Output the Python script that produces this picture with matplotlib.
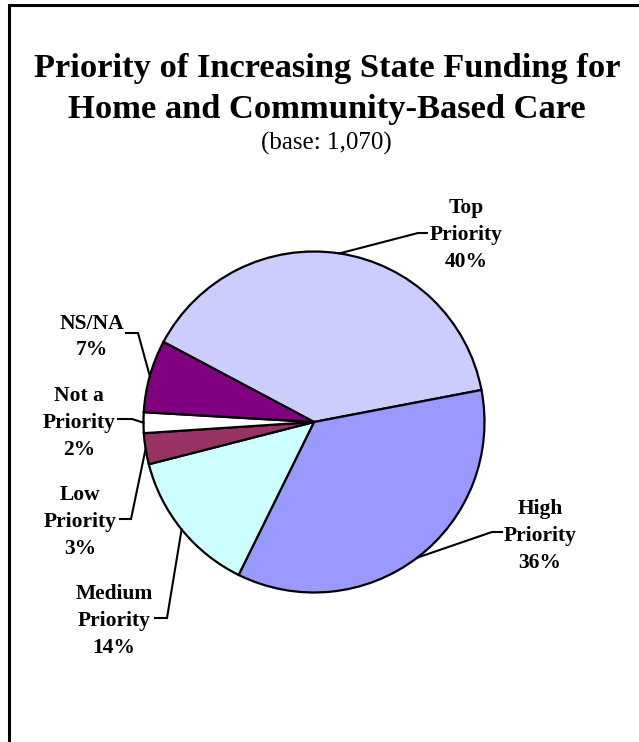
import numpy as np
import matplotlib
matplotlib.use("Agg")
import matplotlib.pyplot as plt

# survey answers, clockwise from the top slice
categories = ["Top\nPriority", "High\nPriority", "Medium\nPriority",
              "Low\nPriority", "Not a\nPriority", "NS/NA"]
shares = [40, 36, 14, 3, 2, 7]
colors = ["#CCCCFF", "#9999FF", "#CCFFFF", "#993366", "#FFFFFF", "#800080"]

title_lines = ["Priority of Increasing State Funding for",
               "Home and Community-Based Care"]
subtitle = "(base: 1,070)"

W, H = 639, 742
# label layout in pixels from the top-left: label centre, elbow, tail
label_pos = [(466, 235), (540, 536), (114, 621), (80, 522), (79, 423), (92, 337)]
elbows = [(418, 233), (492, 532), (167, 618), (131, 519), (132, 419), (138, 333)]
tails = [(427, 233), (502, 532), (155, 618), (120, 519), (118, 419), (126, 333)]

cx, cy, r = 314, 422, 170.5

fig = plt.figure(figsize=(W / 100, H / 100), dpi=100)
ax = fig.add_axes([0, 0, 1, 1])

wedges, _ = ax.pie(shares, colors=colors, startangle=152, counterclock=False,
                   center=(cx, H - cy), radius=r,
                   wedgeprops=dict(edgecolor="black", linewidth=1.6))
ax.set_xlim(0, W)
ax.set_ylim(0, H)
ax.axis("off")

serif = "Liberation Serif"
for w, lab, share, (lx, ly), (ex, ey), (tx, ty) in zip(wedges, categories, shares,
                                                      label_pos, elbows, tails):
    mid = np.deg2rad((w.theta1 + w.theta2) / 2)
    px = cx + r * np.cos(mid)
    py = (H - cy) + r * np.sin(mid)
    ax.plot([tx, ex, px], [H - ty, H - ey, py], color="black", lw=1.5,
            solid_joinstyle="miter")
    ax.text(lx, H - ly, f"{lab}\n{share}%", ha="center", va="center",
            multialignment="center", fontfamily=serif, fontweight="bold",
            fontsize=15.5, linespacing=1.45)

# title block
ax.text(327, H - 77, title_lines[0], ha="center", va="baseline",
        fontfamily=serif, fontweight="bold", fontsize=24.8)
ax.text(327, H - 118, title_lines[1], ha="center", va="baseline",
        fontfamily=serif, fontweight="bold", fontsize=24.8)
ax.text(326, H - 150, subtitle, ha="center", va="baseline",
        fontfamily=serif, fontsize=18)

# frame edges along the left and top
ax.plot([9, 9, W], [0, H - 5, H - 5], color="black", lw=2.2,
        solid_joinstyle="miter", clip_on=False)

fig.savefig("out.png", dpi=100)
